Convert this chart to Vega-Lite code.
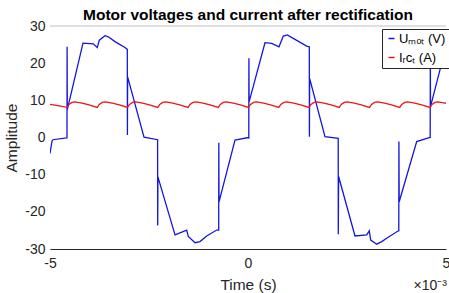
{
  "$schema": "https://vega.github.io/schema/vega-lite/v6.json",
  "width": 396,
  "height": 223,
  "autosize": {"type": "none"},
  "padding": {"left": 50, "top": 26, "right": 3, "bottom": 44},
  "background": "white",
  "config": {
    "view": {"stroke": null},
    "font": "Liberation Sans"
  },
  "title": {
    "text": "Motor voltages and current after rectification",
    "fontSize": 15.5,
    "fontWeight": "bold",
    "font": "Liberation Sans",
    "color": "#000000",
    "frame": "group",
    "anchor": "middle",
    "offset": -4
  },
  "datasets": {
    "umot": [
      {"t": -5.000, "v": -4.3}, {"t": -4.949, "v": -1.0}, {"t": -4.924, "v": -0.6},
      {"t": -4.583, "v": -0.1}, {"t": -4.571, "v": -0.1}, {"t": -4.568, "v": 24.4},
      {"t": -4.563, "v": 7.5}, {"t": -4.167, "v": 25.4}, {"t": -3.907, "v": 25.2},
      {"t": -3.806, "v": 24.2}, {"t": -3.755, "v": 26.2}, {"t": -3.611, "v": 27.4},
      {"t": -3.528, "v": 27.1}, {"t": -3.359, "v": 25.8}, {"t": -3.106, "v": 24.2},
      {"t": -3.048, "v": 23.7}, {"t": -3.045, "v": 0.7}, {"t": -3.040, "v": 16.3},
      {"t": -2.626, "v": 0.1}, {"t": -2.283, "v": -0.6}, {"t": -2.280, "v": -23.7},
      {"t": -2.275, "v": -10.6}, {"t": -1.843, "v": -26.2}, {"t": -1.548, "v": -24.9},
      {"t": -1.508, "v": -26.6}, {"t": -1.338, "v": -28.3}, {"t": -1.212, "v": -28.0},
      {"t": -1.043, "v": -26.5}, {"t": -0.790, "v": -24.9}, {"t": -0.740, "v": -24.9},
      {"t": -0.737, "v": -1.4}, {"t": -0.732, "v": -17.3}, {"t": -0.328, "v": -0.7},
      {"t": 0.008, "v": 0.0}, {"t": 0.020, "v": -0.1}, {"t": 0.023, "v": 21.3},
      {"t": 0.028, "v": 9.6}, {"t": 0.429, "v": 25.5}, {"t": 0.598, "v": 25.3},
      {"t": 0.783, "v": 24.4}, {"t": 0.891, "v": 27.3}, {"t": 0.992, "v": 27.6},
      {"t": 1.187, "v": 26.4}, {"t": 1.482, "v": 24.6}, {"t": 1.548, "v": 24.4},
      {"t": 1.551, "v": 0.2}, {"t": 1.556, "v": 15.9}, {"t": 1.944, "v": 0.2},
      {"t": 2.278, "v": -0.2}, {"t": 2.280, "v": -26.0}, {"t": 2.288, "v": -10.5},
      {"t": 2.702, "v": -26.5}, {"t": 2.997, "v": -26.2}, {"t": 3.063, "v": -25.1},
      {"t": 3.098, "v": -27.6}, {"t": 3.250, "v": -28.7}, {"t": 3.376, "v": -28.0},
      {"t": 3.503, "v": -27.1}, {"t": 3.795, "v": -25.1}, {"t": 3.808, "v": -25.1},
      {"t": 3.811, "v": -1.1}, {"t": 3.818, "v": -17.3}, {"t": 4.260, "v": -1.1},
      {"t": 4.596, "v": 0.0}, {"t": 4.601, "v": 0.0}, {"t": 4.604, "v": 23.0},
      {"t": 4.609, "v": 8.3}, {"t": 5.000, "v": 24.5}
    ],
    "irct": [
      {"t": -5.000, "v": 8.9}, {"t": -4.800, "v": 8.6},
      {"t": -4.571, "v": 8.1}, {"t": -4.520, "v": 8.9}, {"t": -4.445, "v": 9.45}, {"t": -4.369, "v": 9.6}, {"t": -4.192, "v": 9.25}, {"t": -4.015, "v": 8.8},
      {"t": -3.807, "v": 8.1}, {"t": -3.756, "v": 8.9}, {"t": -3.681, "v": 9.45}, {"t": -3.605, "v": 9.6}, {"t": -3.428, "v": 9.25}, {"t": -3.251, "v": 8.8},
      {"t": -3.043, "v": 8.1}, {"t": -2.992, "v": 8.9}, {"t": -2.917, "v": 9.45}, {"t": -2.841, "v": 9.6}, {"t": -2.664, "v": 9.25}, {"t": -2.487, "v": 8.8},
      {"t": -2.279, "v": 8.1}, {"t": -2.228, "v": 8.9}, {"t": -2.153, "v": 9.45}, {"t": -2.077, "v": 9.6}, {"t": -1.900, "v": 9.25}, {"t": -1.723, "v": 8.8},
      {"t": -1.515, "v": 8.1}, {"t": -1.464, "v": 8.9}, {"t": -1.389, "v": 9.45}, {"t": -1.313, "v": 9.6}, {"t": -1.136, "v": 9.25}, {"t": -0.959, "v": 8.8},
      {"t": -0.751, "v": 8.1}, {"t": -0.700, "v": 8.9}, {"t": -0.625, "v": 9.45}, {"t": -0.549, "v": 9.6}, {"t": -0.372, "v": 9.25}, {"t": -0.195, "v": 8.8},
      {"t": 0.013, "v": 8.1}, {"t": 0.064, "v": 8.9}, {"t": 0.139, "v": 9.45}, {"t": 0.215, "v": 9.6}, {"t": 0.392, "v": 9.25}, {"t": 0.569, "v": 8.8},
      {"t": 0.777, "v": 8.1}, {"t": 0.828, "v": 8.9}, {"t": 0.903, "v": 9.45}, {"t": 0.979, "v": 9.6}, {"t": 1.156, "v": 9.25}, {"t": 1.333, "v": 8.8},
      {"t": 1.540, "v": 8.1}, {"t": 1.591, "v": 8.9}, {"t": 1.666, "v": 9.45}, {"t": 1.742, "v": 9.6}, {"t": 1.919, "v": 9.25}, {"t": 2.096, "v": 8.8},
      {"t": 2.304, "v": 8.1}, {"t": 2.355, "v": 8.9}, {"t": 2.430, "v": 9.45}, {"t": 2.506, "v": 9.6}, {"t": 2.683, "v": 9.25}, {"t": 2.860, "v": 8.8},
      {"t": 3.068, "v": 8.1}, {"t": 3.119, "v": 8.9}, {"t": 3.194, "v": 9.45}, {"t": 3.270, "v": 9.6}, {"t": 3.447, "v": 9.25}, {"t": 3.624, "v": 8.8},
      {"t": 3.832, "v": 8.1}, {"t": 3.883, "v": 8.9}, {"t": 3.958, "v": 9.45}, {"t": 4.034, "v": 9.6}, {"t": 4.211, "v": 9.25}, {"t": 4.388, "v": 8.8},
      {"t": 4.596, "v": 8.1}, {"t": 4.647, "v": 8.9}, {"t": 4.722, "v": 9.45}, {"t": 4.798, "v": 9.6}, {"t": 4.975, "v": 9.25}, {"t": 5.000, "v": 9.22}
    ]
  },
  "encoding": {
    "x": {
      "field": "t",
      "type": "quantitative",
      "scale": {"domain": [-5, 5], "nice": false, "zero": false},
      "axis": {
        "title": "Time (s)",
        "values": [-5, 0, 5],
        "labelExpr": "'' + datum.value",
        "grid": false,
        "ticks": false,
        "domain": true,
        "domainColor": "#262626",
        "domainWidth": 1,
        "labelFontSize": 14,
        "labelColor": "#262626",
        "labelFont": "Liberation Sans",
        "labelPadding": 7,
        "labelFlush": false,
        "titleFontSize": 15.5,
        "titleFontWeight": "normal",
        "titleColor": "#262626",
        "titleFont": "Liberation Sans",
        "titlePadding": 7
      }
    },
    "y": {
      "field": "v",
      "type": "quantitative",
      "scale": {"domain": [-30, 30], "nice": false, "zero": false},
      "axis": {
        "title": "Amplitude",
        "values": [-30, -20, -10, 0, 10, 20, 30],
        "labelExpr": "'' + datum.value",
        "grid": false,
        "ticks": false,
        "domain": false,
        "labelFontSize": 14,
        "labelColor": "#262626",
        "labelFont": "Liberation Sans",
        "labelPadding": 5,
        "labelFlush": false,
        "titleFontSize": 15.5,
        "titleFontWeight": "normal",
        "titleColor": "#262626",
        "titleFont": "Liberation Sans",
        "titlePadding": 5
      }
    }
  },
  "layer": [
    {
      "data": {"values": [{"v": 30}]},
      "mark": {"type": "rule", "color": "#c0c0c0", "strokeWidth": 1},
      "encoding": {"x": null}
    },
    {
      "data": {"name": "umot"},
      "mark": {"type": "line", "strokeWidth": 1.3, "clip": true},
      "encoding": {
        "color": {
          "datum": "Uₘₒₜ (V)",
          "scale": {"domain": ["Uₘₒₜ (V)", "Iᵣcₜ (A)"], "range": ["#1515e0", "#f01414"]},
          "legend": {
            "title": null,
            "orient": "none",
            "legendX": 332,
            "legendY": 3,
            "padding": 3,
            "rowPadding": 5,
            "strokeColor": "#262626",
            "fillColor": "#ffffff",
            "symbolType": "stroke",
            "symbolSize": 36,
            "symbolStrokeWidth": 1.5,
            "labelFontSize": 13,
            "labelFont": "Liberation Sans",
            "labelColor": "#000000",
            "labelOffset": 1,
            "labelLimit": 200
          }
        }
      }
    },
    {
      "data": {"name": "irct"},
      "mark": {"type": "line", "strokeWidth": 1.3, "clip": true},
      "encoding": {
        "color": {"datum": "Iᵣcₜ (A)"}
      }
    },
    {
      "data": {"values": [{"t": 5, "v": -30, "label": "×10⁻³"}]},
      "mark": {
        "type": "text",
        "align": "right",
        "baseline": "alphabetic",
        "dx": 1,
        "dy": 41,
        "fontSize": 14,
        "font": "Liberation Sans",
        "color": "#262626"
      },
      "encoding": {"text": {"field": "label"}}
    }
  ]
}
